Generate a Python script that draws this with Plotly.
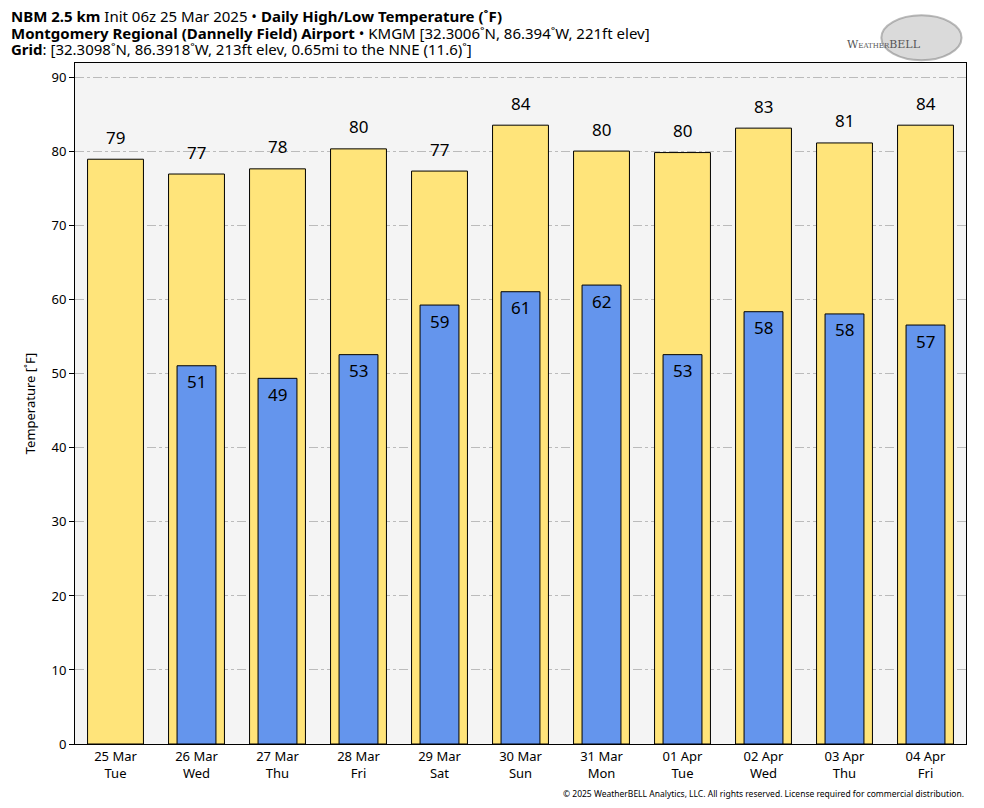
import plotly.graph_objects as go

dates = ["25 Mar", "26 Mar", "27 Mar", "28 Mar", "29 Mar", "30 Mar", "31 Mar",
         "01 Apr", "02 Apr", "03 Apr", "04 Apr"]
weekdays = ["Tue", "Wed", "Thu", "Fri", "Sat", "Sun", "Mon", "Tue", "Wed", "Thu", "Fri"]
highs = [79.0, 77.0, 77.7, 80.4, 77.4, 83.6, 80.1, 79.9, 83.2, 81.2, 83.6]
lows = [None, 51.1, 49.4, 52.6, 59.3, 61.1, 62.0, 52.6, 58.4, 58.1, 56.6]

cats = [f"{d}<br>{w}" for d, w in zip(dates, weekdays)]
FONT = "Noto Sans"

fig = go.Figure()
fig.add_trace(go.Bar(x=cats, y=highs, width=0.69, marker=dict(color="#FFE47A", line=dict(color="black", width=1)),
                     hoverinfo="y", name="High"))
fig.add_trace(go.Bar(x=cats, y=lows, width=0.48, marker=dict(color="#6495ED", line=dict(color="black", width=1)),
                     hoverinfo="y", name="Low"))

for c, h in zip(cats, highs):
    fig.add_annotation(x=c, y=h, text=str(int(round(h))), showarrow=False, yshift=22,
                       font=dict(size=17, color="black", family=FONT))
for c, l in zip(cats, lows):
    if l is not None:
        fig.add_annotation(x=c, y=l, text=str(int(round(l))), showarrow=False, yshift=-16,
                           font=dict(size=17, color="black", family=FONT))

title_lines = [
    "<b>NBM 2.5 km</b> Init 06z 25 Mar 2025 • <b>Daily High/Low Temperature (˚F)</b>",
    "<b>Montgomery Regional (Dannelly Field) Airport</b> • KMGM [32.3006˚N, 86.394˚W, 221ft elev]",
    "<b>Grid</b>: [32.3098˚N, 86.3918˚W, 213ft elev, 0.65mi to the NNE (11.6)˚]",
]
for i, t in enumerate(title_lines):
    fig.add_annotation(xref="paper", yref="paper", x=0, xshift=-66, y=1.0, yshift=55 - 8 - i * 16.5,
                       xanchor="left", yanchor="middle", text=t, showarrow=False,
                       font=dict(size=15, color="black", family=FONT))

# logo approximation
fig.add_shape(type="circle", xref="paper", yref="paper", x0=0.905, x1=0.995, y0=1.004, y1=1.07,
              fillcolor="rgba(150,150,150,0.35)", line=dict(color="rgba(120,120,120,0.5)", width=2), layer="above")
fig.add_annotation(xref="paper", yref="paper", x=0.952, y=1.04, text="W<span style='font-size:7px'>EATHER</span>BELL",
                   showarrow=False, font=dict(size=11, color="#555555", family="DejaVu Serif"))

fig.add_annotation(xref="paper", yref="paper", x=1.0, y=0, yshift=-49, xanchor="right", yanchor="middle",
                   text="© 2025 WeatherBELL Analytics, LLC. All rights reserved. License required for commercial distribution.",
                   showarrow=False, font=dict(size=8.5, color="black", family=FONT))

fig.update_layout(
    width=976, height=800,
    margin=dict(l=67, r=18, t=55, b=64),
    barmode="overlay",
    showlegend=False,
    paper_bgcolor="white",
    plot_bgcolor="#F4F4F4",
    font=dict(family=FONT, color="black", size=13),
    xaxis=dict(range=[-0.5, 10.5], showline=True, linecolor="black", linewidth=1, mirror=True,
               ticks="", tickfont=dict(size=13), showgrid=False),
    yaxis=dict(range=[0, 92], dtick=10, showline=True, linecolor="black", linewidth=1, mirror=True,
               ticks="outside", ticklen=5, tickcolor="black", tickfont=dict(size=13),
               showgrid=True, gridcolor="#BBBBBB", gridwidth=1, griddash="dashdot", zeroline=False,
               title=dict(text="Temperature [˚F]", font=dict(size=13), standoff=12)),
)

fig.write_html("out.html")
